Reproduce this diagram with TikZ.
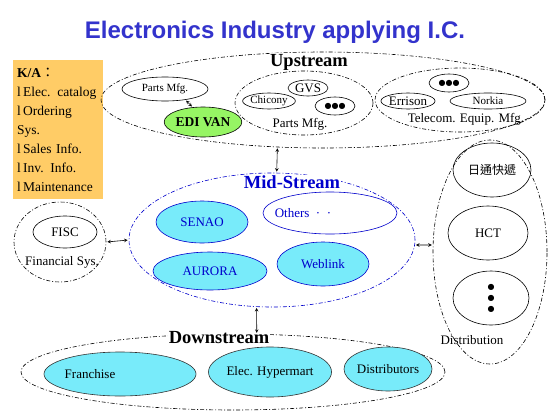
\documentclass[tikz,border=0pt]{standalone}
\usepackage{fontspec}
\setmainfont{Liberation Serif}
\newfontfamily\titlefont{Liberation Sans}
\newfontfamily\cjkfont{Noto Sans CJK TC}
\newfontfamily\symfont{DejaVu Sans}
\usetikzlibrary{shapes.geometric}

\begin{document}
\begin{tikzpicture}[x=1pt, y=-1pt, >=stealth, font=\fontsize{13}{15}\selectfont,
	grp/.style={draw, ellipse, inner sep=0pt, line width=0.6pt, dash pattern=on 4pt off 2pt on 1pt off 2pt},
	item/.style={draw, ellipse, inner sep=0pt, line width=0.6pt},
	miditem/.style={item, draw=midblue, fill=midcyan, text=midblue},
	lowitem/.style={item, draw=black!80, fill=midcyan},
	head/.style={font=\fontsize{18.5}{19}\selectfont\bfseries, fill=white, inner sep=0.5pt},
	small/.style={font=\fontsize{11}{12}\selectfont},
	link/.style={<->, line width=0.6pt, shorten <=1pt, shorten >=1pt}]
		\definecolor{titleblue}{RGB}{51, 51, 204}
		\definecolor{midblue}{RGB}{0, 0, 204}
		\definecolor{midcyan}{RGB}{120, 235, 250}
		\definecolor{kaorange}{RGB}{255, 204, 102}
		\definecolor{edigreen}{RGB}{150, 245, 100}
		
		\useasboundingbox[fill=white] (0,0) rectangle (553,415);
		
		% 标题
		\node[anchor=base, text=titleblue, font=\titlefont\bfseries\fontsize{24}{26}\selectfont] (title) at (275,38) {Electronics Industry applying I.C.};
		
		% K/A
		\node[fill=kaorange, anchor=north west, minimum width=88, minimum height=139, text width=82, inner xsep=4pt, align=left, font=\fontsize{13.5}{19}\selectfont] (ka) at (13,60)
		{\textbf{K/A}{\cjkfont ：}\\ l\,Elec. catalog\\ l\,Ordering\\ Sys.\\ l\,Sales Info.\\ l\,Inv. Info.\\ l\,Maintenance};
		
		% Upstream
		\node[grp, minimum width=444, minimum height=96] (up) at (323,100) {};
		\node[head] (uplabel) at (309,62) {Upstream};
		\node[item, small, minimum width=86, minimum height=24] (pm) at (165,89) {Parts Mfg.};
		\node[item, fill=edigreen, font=\fontsize{13.5}{15}\selectfont\bfseries, minimum width=72, minimum height=30] (edi) at (203,122) {EDI VAN};
		\draw[link] (pm.-28) -- (edi.125);
		
		\node[grp, minimum width=138, minimum height=64] (partsgrp) at (304,103) {};
		\node[item, minimum width=40, minimum height=16] (gvs) at (308,88) {GVS};
		\node[item, small, minimum width=42, minimum height=16] (chicony) at (269,101) {Chicony};
		\node[item, minimum width=40, minimum height=18, font=\symfont\fontsize{8}{8}\selectfont] (partsmore) at (335,106) {●●●};
		\node (partslabel) at (300,124) {Parts Mfg.};
		
		\node[grp, minimum width=170, minimum height=64] (telgrp) at (460,100) {};
		\node[item, minimum width=40, minimum height=18, font=\symfont\fontsize{8}{8}\selectfont] (telmore) at (449,83) {●●●};
		\node[item, minimum width=42, minimum height=16] (errison) at (408,101) {Errison};
		\node[item, small, minimum width=76, minimum height=16] (norkia) at (488,101) {Norkia};
		\node (tellabel) at (466,119) {Telecom. Equip. Mfg.};
		
		% Mid-Stream
		\node[grp, draw=midblue, minimum width=286, minimum height=134] (mid) at (272,240) {};
		\node[head, text=midblue] (midlabel) at (292,182) {Mid-Stream};
		\node[miditem, minimum width=92, minimum height=42] (senao) at (202,222) {SENAO};
		\node[miditem, minimum width=114, minimum height=38] (aurora) at (210,271) {AURORA};
		\node[item, draw=midblue, text=midblue, minimum width=134, minimum height=42] (others) at (330,213) {\hspace{-54pt}Others\ \ ·\ \ ·};
		\node[miditem, minimum width=92, minimum height=44] (weblink) at (323,264) {Weblink};
		
		% Financial
		\node[grp, minimum width=92, minimum height=80] (fingrp) at (60,242) {};
		\node[item, minimum width=64, minimum height=32] (fisc) at (65,232) {FISC};
		\node (finlabel) at (62,262) {Financial Sys.};
		
		% Distribution
		\node[grp, minimum width=114, minimum height=224] (dist) at (490,252) {};
		\node[item, minimum width=78, minimum height=54, font=\cjkfont\fontsize{12}{14}\selectfont] (nittsu) at (492,170) {日通快遞};
		\node[item, minimum width=80, minimum height=54] (hct) at (488,233) {HCT};
		\node[item, minimum width=76, minimum height=54, align=center, font=\symfont\fontsize{8}{11}\selectfont] (distmore) at (491,298) {●\\●\\●};
		\node (distlabel) at (472,340) {Distribution};
		
		% Downstream
		\node[grp, minimum width=424, minimum height=76] (down) at (233,372) {};
		\node[head] (downlabel) at (219,338) {Downstream};
		\node[lowitem, minimum width=152, minimum height=44] (franchise) at (120,374) {\hspace{-60pt}Franchise};
		\node[lowitem, minimum width=122, minimum height=50] (hyper) at (270,372) {Elec. Hypermart};
		\node[lowitem, minimum width=88, minimum height=44] (distributors) at (388,369) {Distributors};
		
		% 连接
		\draw[link] (up.226) -- (mid.86);
		\draw[link] (fingrp.east) -- (mid.west);
		\draw[link] (mid.-2) -- (dist.173);
		\draw[link] (mid.257) -- (down.58);
	\end{tikzpicture}
\end{document}
